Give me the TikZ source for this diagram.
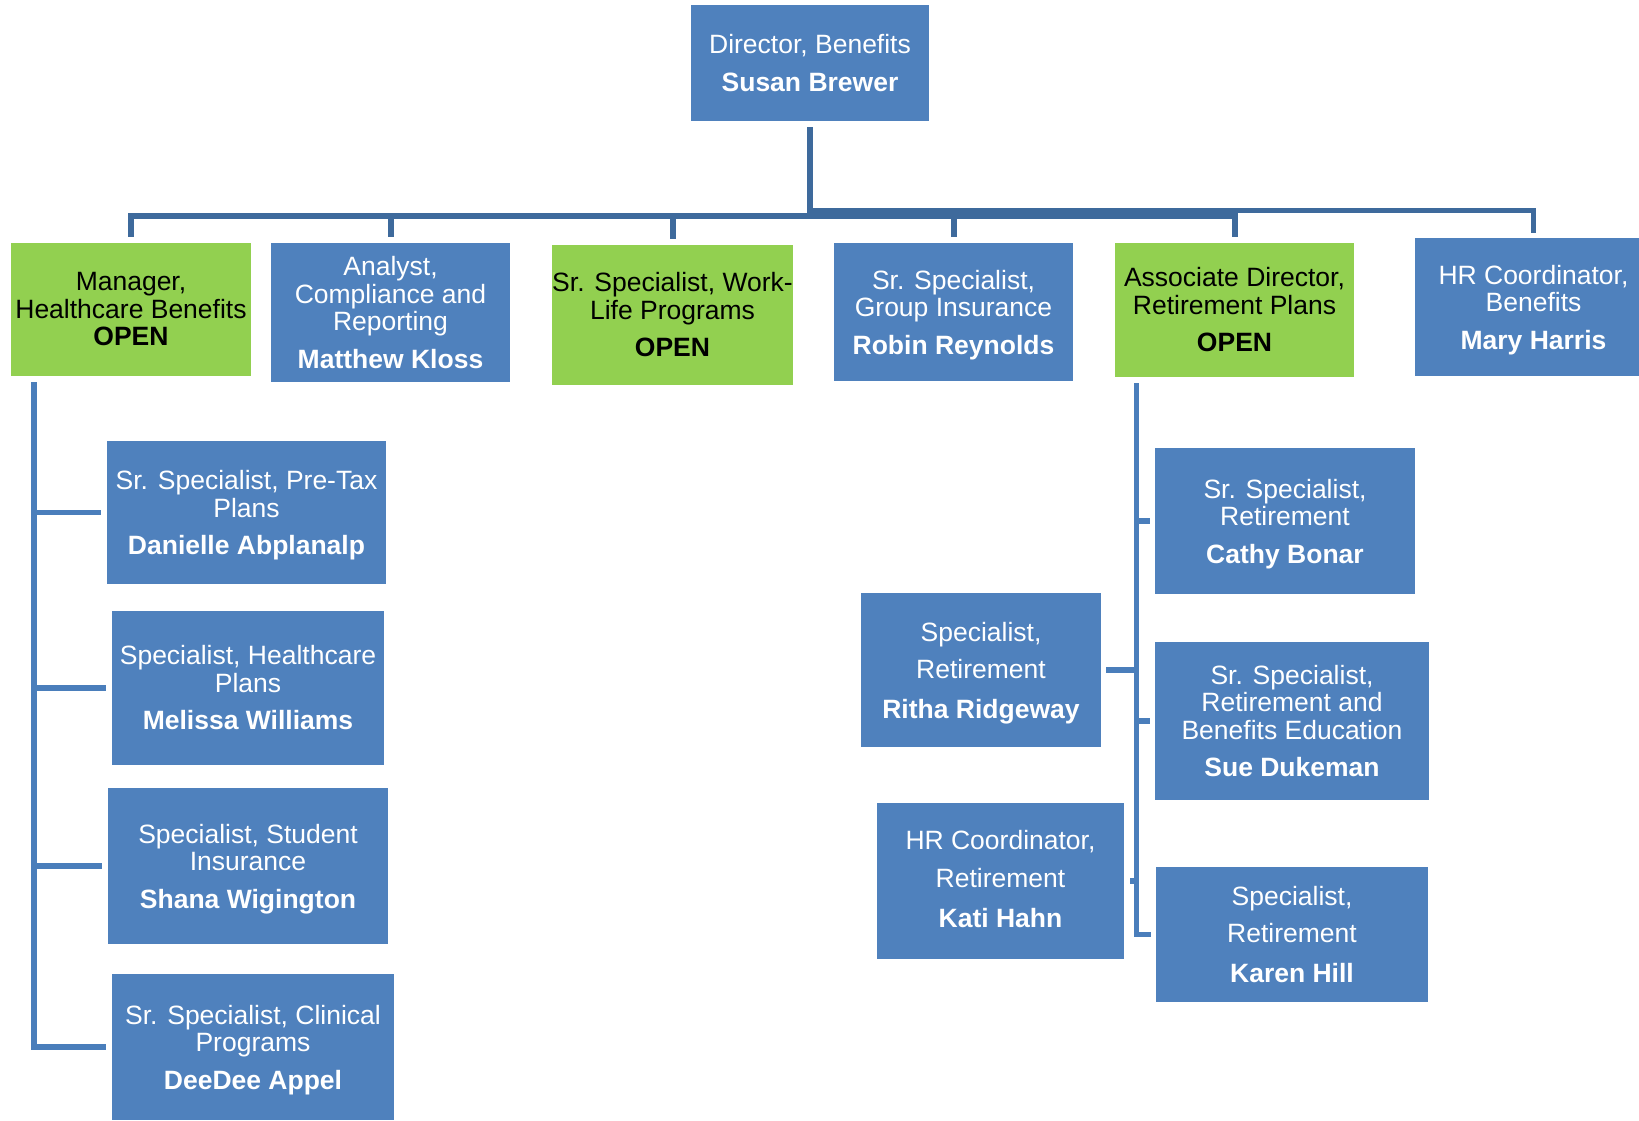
\documentclass[tikz,border=0pt]{standalone}
\usepackage{fontspec}
\setmainfont{Liberation Sans}
\definecolor{boxblue}{HTML}{4F81BD}
\definecolor{boxgreen}{HTML}{92D050}
\definecolor{lineblue}{HTML}{4A7EBB}
\definecolor{linedark}{HTML}{3E6A9C}
\newcommand\tfont{\fontsize{13.25}{13.75}\selectfont}
\newcommand\wfont{\fontsize{13.25}{18.8}\selectfont}
\newcommand\dn{\rule{0pt}{12.6pt}}
\newcommand\upp{\rule[-2.2pt]{0pt}{2.2pt}}
\tikzset{
  box/.style={rectangle, inner sep=0pt, align=center, text=white, font=\tfont},
  bluebox/.style={box, fill=boxblue},
  greenbox/.style={box, fill=boxgreen, text=black},
  widebox/.style={bluebox, font=\wfont},
  topline/.style={draw=linedark, line width=3pt},
  topline2/.style={draw=linedark, line width=2.5pt},
  subline/.style={draw=lineblue, line width=2.75pt},
}
\begin{document}
\begin{tikzpicture}[x=0.5pt,y=-0.5pt]
\fill[white] (0,0) rectangle (1639,1120);
\useasboundingbox (0,0) rectangle (1639,1120);

% top level
\node[bluebox, minimum width=119pt, minimum height=58pt] (dir) at (810,63) {Director, Benefits\\[5pt]\textbf{Susan Brewer}};

% second row
\node[greenbox, minimum width=120pt, minimum height=66.5pt] (mgr) at (131,309.5) {Manager,\\Healthcare Benefits\\\textbf{OPEN}};
\node[bluebox, minimum width=119.5pt, minimum height=69.5pt] (ana) at (390.5,312.5) {Analyst,\\Compliance and\\Reporting\\[5pt]\textbf{Matthew Kloss}};
\node[greenbox, minimum width=119.5pt, minimum height=70pt] (wl) at (672.5,315) {Sr. Specialist, Work-\\Life Programs\\[5pt]\textbf{OPEN}};
\node[bluebox, minimum width=119.5pt, minimum height=69pt] (grp) at (953.5,312) {\dn Sr. Specialist,\\Group Insurance\\[5pt]\textbf{Robin Reynolds}};
\node[greenbox, minimum width=119.5pt, minimum height=67pt] (asc) at (1234.5,310) {Associate Director,\\Retirement Plans\\[5pt]\textbf{OPEN}};
\node[bluebox, minimum width=118.5pt, minimum height=69pt] (hrb) at (1533.5,307) {\dn HR Coordinator,\\Benefits\\[5pt]\textbf{Mary Harris}};

% left column
\node[bluebox, minimum width=139.5pt, minimum height=71.5pt] (dan) at (246.5,512.5) {\dn Sr. Specialist, Pre-Tax\\Plans\\[5pt]\textbf{Danielle Abplanalp}};
\node[bluebox, minimum width=136pt, minimum height=77pt] (mel) at (248,688) {Specialist, Healthcare\\Plans\\[5pt]\textbf{Melissa Williams}};
\node[bluebox, minimum width=140pt, minimum height=78pt] (sha) at (248,866) {\dn Specialist, Student\\Insurance\\[5pt]\textbf{Shana Wigington}};
\node[bluebox, minimum width=141pt, minimum height=73pt] (dee) at (253,1047) {\dn Sr. Specialist, Clinical\\Programs\\[5pt]\textbf{DeeDee Appel}};

% right group
\node[bluebox, minimum width=130pt, minimum height=73pt] (cat) at (1285,521) {\dn Sr. Specialist,\\Retirement\\[5pt]\textbf{Cathy Bonar}};
\node[widebox, minimum width=120pt, minimum height=77pt] (rit) at (981,670) {\dn Specialist,\\Retirement\\[1pt]\textbf{Ritha Ridgeway}};
\node[bluebox, minimum width=137pt, minimum height=79pt] (sue) at (1292,721) {Sr. Specialist,\\Retirement and\\Benefits Education\\[5pt]\textbf{Sue Dukeman}};
\node[widebox, minimum width=123.5pt, minimum height=78pt] (kat) at (1000.5,881) {HR Coordinator,\\Retirement\\[1pt]\textbf{Kati Hahn}\upp};
\node[widebox, minimum width=136pt, minimum height=67.5pt] (kar) at (1292,934.5) {Specialist,\\Retirement\\[1pt]\textbf{Karen Hill}};

% connectors, top
\coordinate (bus) at (0,215.5);
\coordinate (bustwo) at (0,210);
\draw[topline2] (dir.south |- bustwo) -- (hrb.north |- bustwo) -- ([yshift=2.5pt]hrb.north);
\draw[topline] ([yshift=-3pt]dir.south) -- (dir.south |- bus);
\draw[topline] ([yshift=3pt]mgr.north) -- (mgr.north |- bus) -- (asc.north |- bus) -- ([yshift=3pt]asc.north);
\foreach \n in {ana,wl,grp}
  \draw[topline] (\n.north |- bus) -- ([yshift=3pt]\n.north);

% connectors, left
\coordinate (lv) at (34,0);
\draw[subline] ([yshift=-3pt]mgr.south -| lv) -- (lv |- dee.west) -- ([xshift=-3pt]dee.west);
\foreach \n in {dan,mel,sha}
  \draw[subline] (lv |- \n.west) -- ([xshift=-3pt]\n.west);

% connectors, right
\coordinate (rv) at (1136.5,0);
\draw[subline] ([yshift=-3pt]asc.south -| rv) -- (rv |- kar.west) -- ([xshift=-2.5pt]kar.west);
\foreach \n in {cat,sue}
  \draw[subline] (rv |- \n.west) -- ([xshift=-2.5pt]\n.west);
\draw[subline] (rv |- rit.east) -- ([xshift=2.5pt]rit.east);
\draw[subline] (rv |- kat.east) -- ([xshift=3pt]kat.east);
\end{tikzpicture}
\end{document}
